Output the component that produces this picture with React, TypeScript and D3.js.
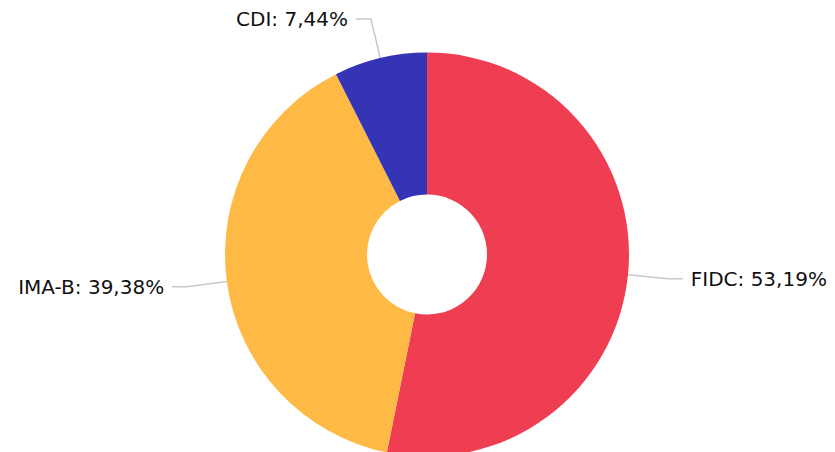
import React, { useEffect, useRef } from 'react';
import { arc, pie, select } from 'd3';

const categories = ['FIDC', 'IMA-B', 'CDI'];
const values = [53.19, 39.38, 7.44];
const colors = ['#ef3d52', '#ffba46', '#3434b4'];

const width = 835;
const height = 452;

export default function App() {
    const svgRef = useRef<SVGSVGElement>(null);

    useEffect(() => {
        const svg = select(svgRef.current);
        svg.selectAll('*').remove();

        const cx = 427;
        const cy = 254.5;
        const outerR = 202;
        const innerR = 60;
        const lineR = 242; // end of first label segment
        const len2 = 15;
        const gap = 8;

        const data = categories.map((c, i) => ({ name: c, value: values[i], color: colors[i] }));
        const arcs = pie<any>().sort(null).value((d) => d.value)(data);

        const chart = svg.append('g').attr('transform', `translate(${cx},${cy})`);

        const slice = arc<any>().innerRadius(innerR).outerRadius(outerR);

        chart.selectAll('.slice')
            .data(arcs)
            .join('path')
            .attr('class', 'slice')
            .attr('d', slice)
            .attr('fill', (d) => d.data.color);

        // label lines + text
        arcs.forEach((d) => {
            const mid = (d.startAngle + d.endAngle) / 2;
            const sx = Math.sin(mid), sy = -Math.cos(mid);
            const p0 = [sx * outerR, sy * outerR];
            const p1 = [sx * lineR, sy * lineR];
            const dir = sx >= 0 ? 1 : -1;
            const p2 = [p1[0] + dir * len2, p1[1]];

            chart.append('polyline')
                .attr('points', [p0, p1, p2].map((p) => p.join(',')).join(' '))
                .attr('fill', 'none')
                .attr('stroke', '#c8c8c8')
                .attr('stroke-width', 1.5);

            chart.append('text')
                .attr('x', p2[0] + dir * gap)
                .attr('y', p2[1])
                .attr('dy', '0.35em')
                .attr('text-anchor', dir > 0 ? 'start' : 'end')
                .attr('font-family', 'DejaVu Sans, Verdana, sans-serif')
                .attr('font-size', 20)
                .attr('fill', '#111')
                .text(`${d.data.name}: ${d.data.value.toFixed(2).replace('.', ',')}%`);
        });
    }, []);

    return (
        <svg
            ref={svgRef}
            width={width}
            height={height}
            style={{ position: 'absolute', left: 0, top: 0, background: '#fff' }}
        />
    );
}
